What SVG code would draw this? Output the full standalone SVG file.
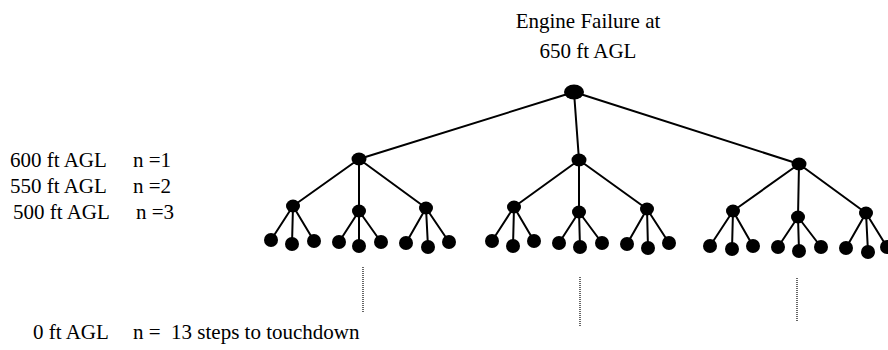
<svg xmlns="http://www.w3.org/2000/svg" width="888" height="350" viewBox="0 0 888 350">
<style>
text{font-family:"Liberation Serif","Times New Roman",serif;font-size:21px;fill:#000}
.e{stroke:#000;stroke-width:2;fill:none}
.d{stroke:#000;stroke-width:1.2;stroke-dasharray:1 1;fill:none}
.n{fill:#000}
</style>
<rect width="888" height="350" fill="#fff"/>
<g id="title">
<text x="588" y="28" text-anchor="middle">Engine Failure at</text>
<text x="588" y="58" text-anchor="middle">650 ft AGL</text>
</g>
<g id="labels">
<text x="10" y="167">600 ft AGL</text><text x="133" y="167">n =1</text>
<text x="10" y="193">550 ft AGL</text><text x="133" y="193">n =2</text>
<text x="13" y="219">500 ft AGL</text><text x="136" y="219">n =3</text>
<text x="33" y="339">0 ft AGL</text><text x="133" y="339" xml:space="preserve">n =  13 steps to touchdown</text>
</g>
<g id="connectors">
<path class="e" d="M574 92L359 159M574 92L579 160M574 92L799 164"/>
<path class="e" d="M359 159L293 206M359 159L359 211M359 159L426 208"/>
<path class="e" d="M579 160L514 207M579 160L579 212M579 160L647 209"/>
<path class="e" d="M799 164L733 211M799 164L798 217M799 164L866 213"/>
<path class="e" d="M293 206L271 240M293 206L292 244M293 206L314 241M359 211L339 242M359 211L359 246M359 211L381 242M426 208L406 243M426 208L428 247M426 208L449 242"/>
<path class="e" d="M514 207L492 241M514 207L513 246M514 207L534 241M579 212L559 243M579 212L580 247M579 212L602 243M647 209L627 244M647 209L648 248M647 209L669 243"/>
<path class="e" d="M733 211L710 246M733 211L732 249M733 211L753 246M798 217L778 247M798 217L799 251M798 217L821 247M866 213L846 248M866 213L868 252M866 213L887 247"/>
<path class="d" d="M363 267V312M580 277V327M797 278V322"/>
</g>
<g id="root"><ellipse class="n" cx="574" cy="92" rx="10" ry="7.5"/></g>
<g id="n1a"><ellipse class="n" cx="359" cy="159" rx="7.5" ry="6.5"/></g>
<g id="n1b"><ellipse class="n" cx="579" cy="160" rx="7.5" ry="6.5"/></g>
<g id="n1c"><ellipse class="n" cx="799" cy="164" rx="7.5" ry="6.5"/></g>
<g id="n2"><ellipse class="n" cx="293" cy="206" rx="7" ry="6.5"/><ellipse class="n" cx="359" cy="211" rx="7" ry="6.5"/><ellipse class="n" cx="426" cy="208" rx="7" ry="6.5"/><ellipse class="n" cx="514" cy="207" rx="7" ry="6.5"/><ellipse class="n" cx="579" cy="212" rx="7" ry="6.5"/><ellipse class="n" cx="647" cy="209" rx="7" ry="6.5"/><ellipse class="n" cx="733" cy="211" rx="7" ry="6.5"/><ellipse class="n" cx="798" cy="217" rx="7" ry="6.5"/><ellipse class="n" cx="866" cy="213" rx="7" ry="6.5"/></g>
<g id="n3">
<circle class="n" cx="271" cy="240" r="7"/><circle class="n" cx="292" cy="244" r="7"/><circle class="n" cx="314" cy="241" r="7"/>
<circle class="n" cx="339" cy="242" r="7"/><circle class="n" cx="359" cy="246" r="7"/><circle class="n" cx="381" cy="242" r="7"/>
<circle class="n" cx="406" cy="243" r="7"/><circle class="n" cx="428" cy="247" r="7"/><circle class="n" cx="449" cy="242" r="7"/>
<circle class="n" cx="492" cy="241" r="7"/><circle class="n" cx="513" cy="246" r="7"/><circle class="n" cx="534" cy="241" r="7"/>
<circle class="n" cx="559" cy="243" r="7"/><circle class="n" cx="580" cy="247" r="7"/><circle class="n" cx="602" cy="243" r="7"/>
<circle class="n" cx="627" cy="244" r="7"/><circle class="n" cx="648" cy="248" r="7"/><circle class="n" cx="669" cy="243" r="7"/>
<circle class="n" cx="710" cy="246" r="7"/><circle class="n" cx="732" cy="249" r="7"/><circle class="n" cx="753" cy="246" r="7"/>
<circle class="n" cx="778" cy="247" r="7"/><circle class="n" cx="799" cy="251" r="7"/><circle class="n" cx="821" cy="247" r="7"/>
<circle class="n" cx="846" cy="248" r="7"/><circle class="n" cx="868" cy="252" r="7"/><circle class="n" cx="887" cy="247" r="7"/>
</g>
</svg>
